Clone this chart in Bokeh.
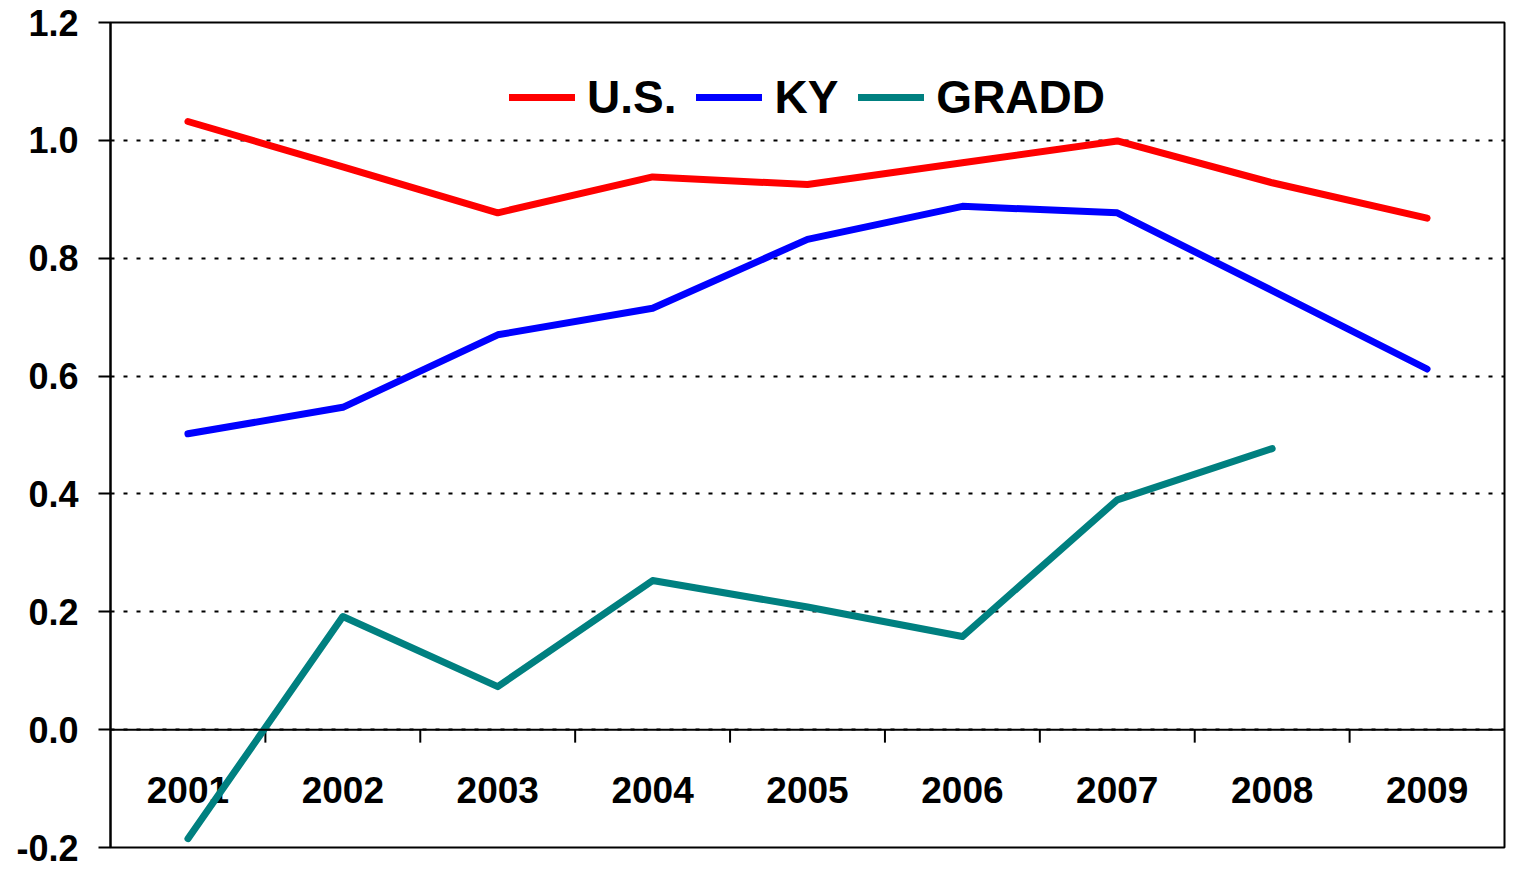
from bokeh.plotting import figure
from bokeh.models import Range1d, FixedTicker, Span, Legend, LegendItem, NumeralTickFormatter
from bokeh.core.properties import value
from bokeh.embed import file_html
from bokeh.resources import INLINE

# ---- data ----
years = ["2001", "2002", "2003", "2004", "2005", "2006", "2007", "2008", "2009"]
us = [1.032, 0.955, 0.877, 0.938, 0.925, 0.962, 0.999, 0.928, 0.868]
ky = [0.502, 0.547, 0.670, 0.715, 0.832, 0.888, 0.877, 0.745, 0.612]
gradd = [-0.185, 0.192, 0.073, 0.253, 0.208, 0.158, 0.390, 0.477]
y_ticks = [-0.2, 0.0, 0.2, 0.4, 0.6, 0.8, 1.0, 1.2]

FONT = "Liberation Sans"
W, H = 1506, 867
BL, BR, BT, BB = 110, 2, 22, 20

xs = [i + 0.5 for i in range(len(years))]
bounds = [i for i in range(1, len(years))]

p = figure(width=W, height=H, output_backend="svg", toolbar_location=None,
           x_range=Range1d(0, len(years)), y_range=Range1d(y_ticks[0], y_ticks[-1]),
           x_axis_location=None,
           min_border_left=BL, min_border_right=BR, min_border_top=BT, min_border_bottom=BB)
p.background_fill_color = "white"
p.border_fill_color = "white"
p.outline_line_color = "black"
p.outline_line_width = 2

# y axis
p.yaxis.ticker = FixedTicker(ticks=y_ticks)
p.yaxis.formatter = NumeralTickFormatter(format="0.0")
p.yaxis.major_label_text_font = FONT
p.yaxis.major_label_text_font_style = "bold"
p.yaxis.major_label_text_font_size = "36px"
p.yaxis.major_label_text_color = "black"
p.yaxis.axis_line_color = "black"
p.yaxis.axis_line_width = 2
p.yaxis.major_tick_line_color = "black"
p.yaxis.major_tick_line_width = 2
p.yaxis.major_tick_out = 12
p.yaxis.major_tick_in = 0
p.yaxis.minor_tick_line_color = None
p.yaxis.major_label_standoff = 20

# grid
p.xgrid.grid_line_color = None
p.ygrid.ticker = FixedTicker(ticks=y_ticks)
p.ygrid.grid_line_color = "black"
p.ygrid.grid_line_width = 2
p.ygrid.grid_line_dash = "4 9"

# zero axis line
p.add_layout(Span(location=0, dimension="width", line_color="black", line_width=2))

# x tick marks at category boundaries (pixel length converted to data units)
px_per_unit = (H - BT - BB) / (y_ticks[-1] - y_ticks[0])
tick_len = 13 / px_per_unit
p.segment(x0=bounds, y0=[0] * len(bounds), x1=bounds, y1=[-tick_len] * len(bounds),
          line_color="black", line_width=2)

# x labels
label_y = -60 / px_per_unit
p.text(x=xs, y=[label_y] * len(xs), text=years, text_align="center", text_baseline="middle",
       text_font=value(FONT), text_font_style="bold", text_font_size="37px", text_color="black")

# series
LW = 7
r_us = p.line(xs, us, line_color="#FF0000", line_width=LW, line_cap="round", line_join="round")
r_ky = p.line(xs, ky, line_color="#0000FF", line_width=LW, line_cap="round", line_join="round")
r_gr = p.line(xs[:len(gradd)], gradd, line_color="#008080", line_width=LW, line_cap="round", line_join="round")

legend = Legend(items=[LegendItem(label="U.S.", renderers=[r_us]),
                       LegendItem(label="KY", renderers=[r_ky]),
                       LegendItem(label="GRADD", renderers=[r_gr])],
                orientation="horizontal", location="top_center")
legend.label_text_font = FONT
legend.label_text_font_style = "bold"
legend.label_text_font_size = "46px"
legend.label_text_color = "black"
legend.border_line_color = None
legend.background_fill_alpha = 0
legend.glyph_width = 66
legend.glyph_height = 50
legend.label_height = 50
legend.label_standoff = 12
legend.spacing = 20
legend.padding = 0
legend.margin = 48
p.add_layout(legend, "center")

open("out.html", "w").write(file_html(p, INLINE))
